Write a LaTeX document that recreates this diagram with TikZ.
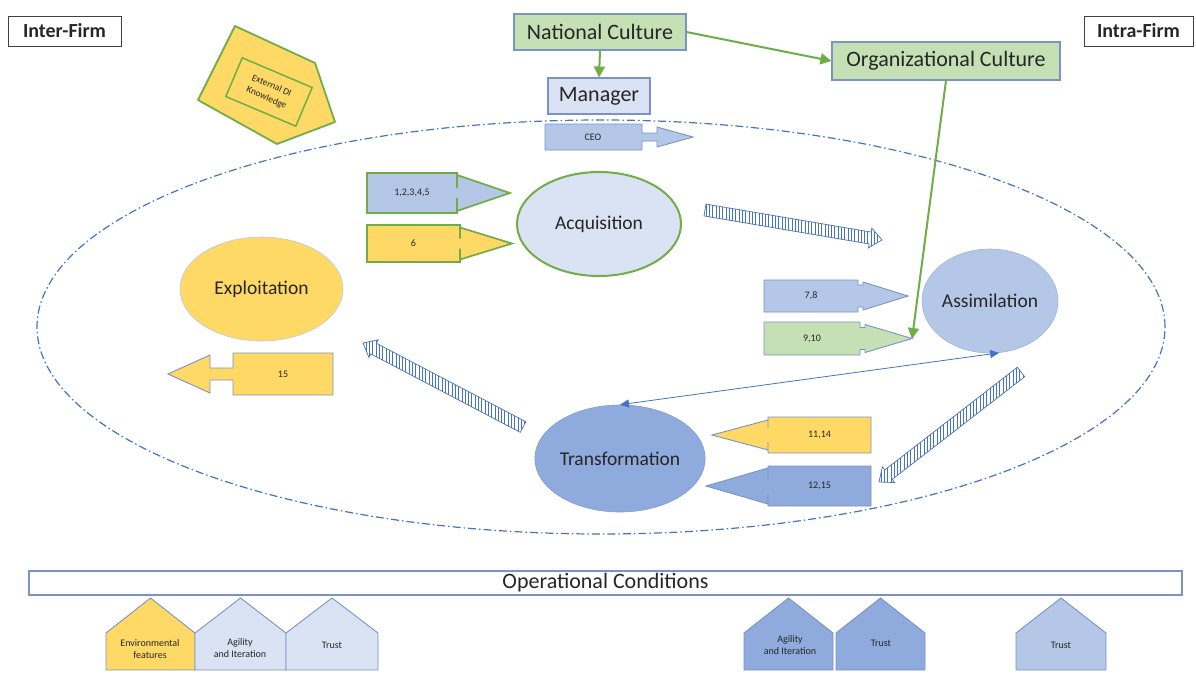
\documentclass[tikz,border=0pt]{standalone}
\usepackage{fontspec}
\setmainfont{Carlito}
\usetikzlibrary{shapes.geometric,arrows.meta,calc,patterns.meta}

\definecolor{offgreen}{HTML}{70AD47}
\definecolor{lightgreen}{HTML}{C5E0B4}
\definecolor{paleblue}{HTML}{DAE3F3}
\definecolor{midblue}{HTML}{B4C7E7}
\definecolor{deepblue}{HTML}{8FAADC}
\definecolor{accent}{HTML}{4472C4}
\definecolor{gold}{HTML}{FFD966}
\definecolor{edgeblue}{HTML}{7A93C4}
\definecolor{textgray}{HTML}{262626}

\tikzset{
  box/.style={draw=edgeblue, line width=1.1pt, inner sep=0pt, text=textgray,
    font=\fontsize{22}{24}\selectfont},
  greenbox/.style={box, fill=lightgreen},
  sidebox/.style={draw=black!75, line width=0.9pt, inner sep=0pt, minimum height=30pt,
    font=\bfseries\fontsize{20}{22}\selectfont, text=textgray},
  phase/.style={ellipse, inner sep=0pt, text=textgray, font=\fontsize{19.5}{22}\selectfont},
  tag/.style={inner sep=0pt, align=center, text=textgray, font=\fontsize{10}{11.5}\selectfont},
  call/.style={draw=edgeblue, line width=0.9pt},
  greencall/.style={draw=offgreen, line width=1.7pt},
  roof/.style={draw=edgeblue, line width=0.9pt},
  cultarrow/.style={draw=offgreen, line width=2pt, -{Triangle[length=11pt,width=11pt]}},
  linkarrow/.style={draw=accent, line width=0.8pt,
    {Triangle[length=9pt,width=8pt]}-{Triangle[length=9pt,width=8pt]}},
  hatch/.style={draw=accent, line width=0.7pt, pattern color=accent,
    pattern={Lines[angle=90,distance=3.3pt,line width=0.9pt]}},
  ring/.style={draw=accent, line width=1.2pt, dash pattern=on 8pt off 3pt on 1.5pt off 3pt},
}

% far x, top y, near x, bottom y, head base x, tip x, shaft half, head half
\newcommand{\callout}[9]{%
  \draw[#1] (#2,#3) -- (#4,#3) -- (#4,{(#3+#5)/2-#8}) -- (#6,{(#3+#5)/2-#8})
    -- (#6,{(#3+#5)/2-#9}) -- (#7,{(#3+#5)/2}) -- (#6,{(#3+#5)/2+#9})
    -- (#6,{(#3+#5)/2+#8}) -- (#4,{(#3+#5)/2+#8}) -- (#4,#5) -- (#2,#5) -- cycle;}
% left x, right x, style
\newcommand{\house}[3]{%
  \draw[roof,#3] (#1,670) -- (#1,633) -- ({(#1+#2)/2},598) -- (#2,633) -- (#2,670) -- cycle;}
% name, from, to
\newcommand{\hatcharrow}[3]{%
  \coordinate (#1b) at ($(#3)!12pt!(#2)$);
  \draw[hatch] ($(#2)!6pt!90:(#3)$) -- ($(#1b)!6pt!90:(#3)$) -- ($(#1b)!10pt!90:(#3)$)
    -- (#3) -- ($(#1b)!10pt!-90:(#3)$) -- ($(#1b)!6pt!-90:(#3)$) -- ($(#2)!6pt!-90:(#3)$) -- cycle;}

\begin{document}
\begin{tikzpicture}[x=1pt,y=-1pt]
\useasboundingbox (0,0) rectangle (1196,673);

% capacity ring
\draw[ring] (601,327) ellipse [x radius=564pt, y radius=207pt];

% external knowledge
\draw[fill=gold, draw=offgreen, line width=1.8pt, line join=round]
  (235,26) -- (315,63) -- (335,122) -- (277,144) -- (198,100) -- cycle;

% callouts
\callout{call, fill=midblue}{545}{124}{642}{150}{657}{693}{4}{10}
\callout{greencall, fill=midblue}{367}{173}{457}{213}{457}{510}{5}{18}
\callout{greencall, fill=gold}{367}{225}{460}{262}{460}{512}{5}{16}
\callout{call, fill=midblue}{764}{280}{858}{312}{863}{908}{11}{14}
\callout{call, fill=lightgreen}{764}{322}{860}{355}{865}{912}{11}{14}
\callout{call, fill=gold}{333}{353}{233}{395}{210}{168}{6}{19}
\callout{call, fill=gold}{871}{417}{768}{453}{768}{712}{7}{15}
\callout{call, fill=deepblue}{871}{466}{768}{506}{768}{706}{7}{18}

% houses
\house{106}{195}{fill=gold}
\house{195}{286}{fill=paleblue}
\house{286}{378}{fill=paleblue}
\house{744}{833}{fill=deepblue}
\house{836}{925}{fill=deepblue}
\house{1016}{1106}{fill=midblue}

\path node[sidebox, minimum width=113pt] (inter) at (64.5,31) {Inter-Firm}
node[sidebox, minimum width=109pt] (intra) at (1138.5,31) {Intra-Firm}
node[greenbox, minimum width=172pt, minimum height=36pt] (natcult) at (600,32) {National Culture}
node[greenbox, minimum width=228pt, minimum height=38pt] (orgcult) at (946,61) {Organizational Culture}
node[box, fill=paleblue, minimum width=102pt, minimum height=36pt] (manager) at (599,96) {Manager}
node[tag, font=\fontsize{9.5}{13}\selectfont, draw=offgreen, line width=1.5pt, rotate=-23, minimum width=76pt, minimum height=42pt] (extdi) at (269,92) {External DI\\Knowledge}
node[phase, fill=paleblue, draw=offgreen, line width=2pt, minimum width=164pt, minimum height=104pt] (acq) at (599,224) {Acquisition}
node[phase, fill=gold, draw=edgeblue!50, line width=0.6pt, minimum width=163pt, minimum height=104pt] (exploit) at (261.5,289) {Exploitation}
node[phase, fill=midblue, draw=midblue!80!accent, line width=0.6pt, minimum width=136pt, minimum height=104pt] (assim) at (990,301) {Assimilation}
node[phase, fill=deepblue, draw=deepblue!80!accent, line width=0.6pt, minimum width=170pt, minimum height=107pt] (trans) at (620,458.5) {Transformation}
node[box, fill=white, line width=1.4pt, minimum width=1153pt, minimum height=24pt] (opcond) at (605.5,583) {Operational Conditions}
node[tag] (ceo) at (593,137) {CEO}
node[tag] (c12345) at (412,193) {1,2,3,4,5}
node[tag] (c6) at (413.5,243.5) {6}
node[tag] (c78) at (811,296) {7,8}
node[tag] (c910) at (812,338.5) {9,10}
node[tag] (c15) at (283,374) {15}
node[tag] (c1114) at (819.5,435) {11,14}
node[tag] (c1215) at (819.5,486) {12,15}
node[tag] (envfeat) at (150,649) {Environmental\\features}
node[tag] (agility) at (240,648) {Agility\\and Iteration}
node[tag] (trustA) at (332,645) {Trust}
node[tag] (agilityB) at (790,645) {Agility\\and Iteration}
node[tag] (trustB) at (881,643) {Trust}
node[tag] (trustC) at (1061,645) {Trust}
;
\coordinate (tip910) at (912,339);
\coordinate (haS) at (705,210);
\coordinate (haE) at (882,240);
\coordinate (hbS) at (1021,372);
\coordinate (hbE) at (879,482);
\coordinate (hcS) at (523,427);
\coordinate (hcE) at (363,343);

\draw[cultarrow] (natcult.south) -- (manager.north);
\draw[cultarrow] (natcult.east) -- (orgcult.west);
\draw[cultarrow] (orgcult.south) -- (tip910);
\draw[linkarrow] (trans.north) -- (assim.-80);
\hatcharrow{ha}{haS}{haE}
\hatcharrow{hb}{hbS}{hbE}
\hatcharrow{hc}{hcS}{hcE}
\end{tikzpicture}
\end{document}
